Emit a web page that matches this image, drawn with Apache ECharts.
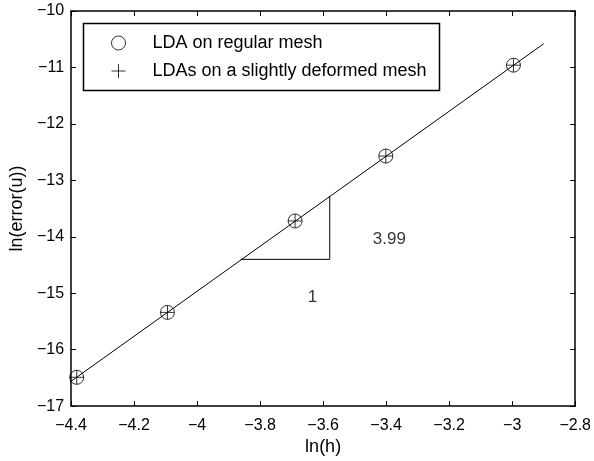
<!DOCTYPE html>
<html><head><meta charset="utf-8">
<script src="https://cdn.jsdelivr.net/npm/echarts@6/dist/echarts.min.js"></script>
<style>html,body{margin:0;padding:0;background:#fff}#c{width:594px;height:461px}</style>
</head><body><div id="c"></div>
<script>
const lnH = [-4.382, -4.094, -3.689, -3.401, -2.996];
const errRegular = [-16.49, -15.34, -13.72, -12.57, -10.96];
const errDeformed = [-16.49, -15.34, -13.72, -12.57, -10.96];
const fitX = [-4.41, -2.9];
const fitY = [-16.60, -10.58];
const triX = [-3.862, -3.579, -3.579];
const triY = [-14.40, -14.40, -13.28];
const annX = [-3.39, -3.634];
const annY = [-14.05, -15.08];
const annText = ['3.99', '1'];
const seriesNames = ['LDA on regular mesh', 'LDAs on a slightly deformed mesh'];

const FONT = 'Liberation Sans, Arial, sans-serif';
const fmt = v => String(+(+v).toFixed(1)).replace('-', '\u2212');
const zip = (a, b) => a.map((x, i) => [x, b[i]]);
const plusPath = 'path://M0,-10L0,10M-10,0L10,0';

const chart = echarts.init(document.getElementById('c'));
const axisCommon = {
  axisLine: {show: true, onZero: false, lineStyle: {color: '#000', width: 1.5}},
  axisTick: {show: true, inside: true, length: 5, lineStyle: {color: '#000', width: 1}},
  splitLine: {show: false}
};
chart.setOption({
  animation: false,
  backgroundColor: '#fff',
  grid: {left: 70, top: 11, width: 509, height: 401},
  xAxis: [
    Object.assign({type: 'value', min: -4.4, max: -2.8, interval: 0.2, position: 'bottom',
      name: 'ln(h)', nameLocation: 'middle', nameGap: 30,
      nameTextStyle: {fontFamily: FONT, fontSize: 18, color: '#000'},
      axisLabel: {formatter: fmt, fontFamily: FONT, fontSize: 16, color: '#000', margin: 11}}, axisCommon),
    Object.assign({type: 'value', min: -4.4, max: -2.8, interval: 0.2, position: 'top',
      axisLabel: {show: false}}, axisCommon)
  ],
  yAxis: [
    Object.assign({type: 'value', min: -17, max: -10, interval: 1, position: 'left',
      name: 'ln(error(u))', nameLocation: 'middle', nameGap: 43,
      nameTextStyle: {fontFamily: FONT, fontSize: 18, color: '#000'},
      axisLabel: {formatter: fmt, fontFamily: FONT, fontSize: 16, color: '#000', margin: 7}}, axisCommon),
    Object.assign({type: 'value', min: -17, max: -10, interval: 1, position: 'right',
      axisLabel: {show: false}}, axisCommon)
  ],
  legend: {
    left: 106, top: 29, orient: 'vertical', itemGap: 10,
    itemWidth: 30, itemHeight: 14,
    itemStyle: {borderWidth: 1, borderColor: '#000', color: 'rgba(0,0,0,0)'},
    textStyle: {fontFamily: FONT, fontSize: 18, color: '#000', padding: [0, 0, 0, 14]},
    data: [
      {name: seriesNames[0], icon: 'circle'},
      {name: seriesNames[1], icon: plusPath}
    ]
  },
  graphic: [{type: 'rect', shape: {x: 83.5, y: 23.5, width: 356, height: 67},
    style: {fill: 'none', stroke: '#000', lineWidth: 1.5}, z: 10}],
  series: [
    {type: 'line', data: zip(fitX, fitY), symbol: 'none', lineStyle: {color: '#000', width: 1}, silent: true},
    {type: 'line', data: zip(triX, triY), symbol: 'none', lineStyle: {color: '#000', width: 1}, silent: true},
    {name: seriesNames[0], type: 'scatter', data: zip(lnH, errRegular), symbol: 'circle', symbolSize: 14,
      itemStyle: {color: 'rgba(0,0,0,0)', borderColor: '#000', borderWidth: 1}},
    {name: seriesNames[1], type: 'scatter', data: zip(lnH, errDeformed), symbol: plusPath, symbolSize: 14,
      itemStyle: {color: 'rgba(0,0,0,0)', borderColor: '#000', borderWidth: 1}},
    {type: 'scatter', data: zip(annX, annY).map((p, i) => ({value: p, label: {formatter: annText[i]}})),
      symbolSize: 0, silent: true,
      label: {show: true, position: 'inside', fontFamily: FONT, fontSize: 17, color: '#000'}}
  ]
});
</script></body></html>
